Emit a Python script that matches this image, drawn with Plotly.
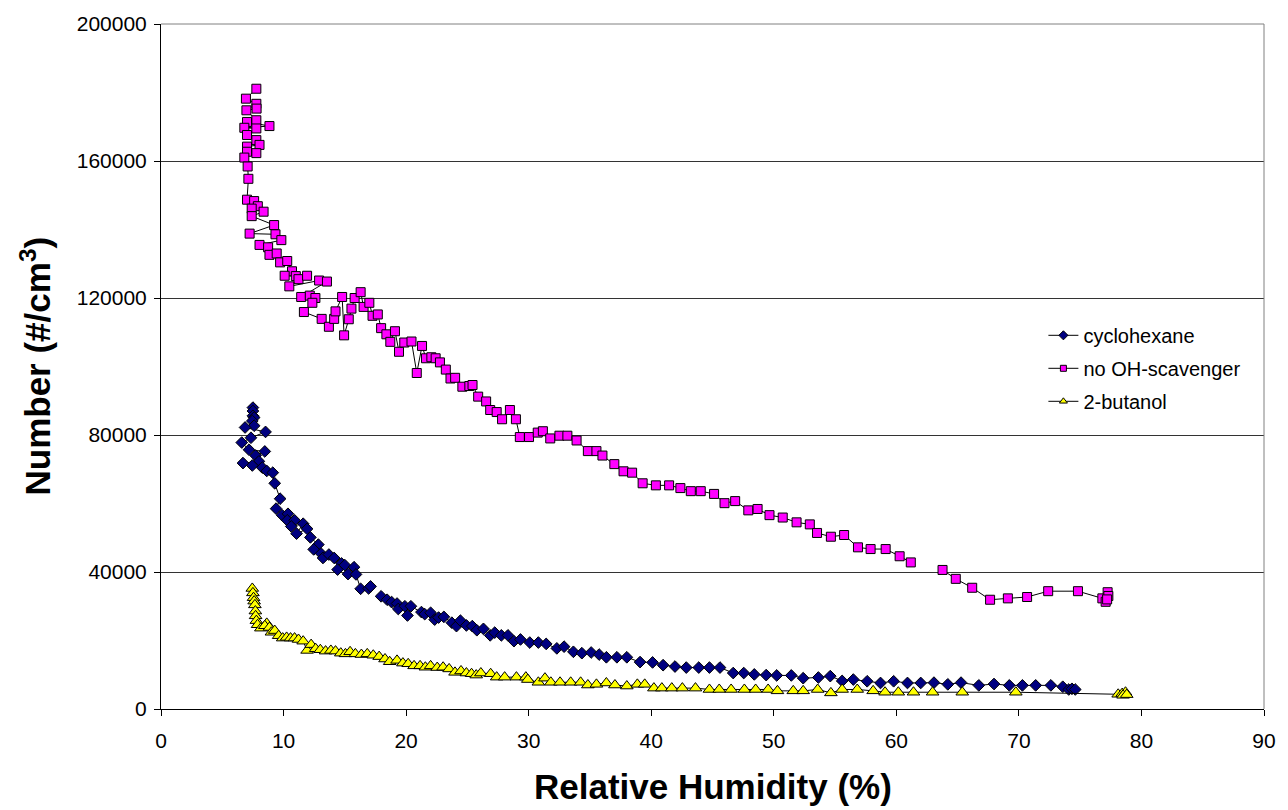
import plotly.graph_objects as go

# ---- data: relative humidity (%) and number concentration (#/cm3) ----
noOH_rh = [7.78, 6.93, 7.78, 7.80, 6.97, 7.78, 7.02, 8.85, 6.80, 7.78, 7.02, 7.78, 8.04, 7.02,
           7.02, 7.78, 6.80, 7.07, 7.13, 7.02, 7.60, 7.90, 7.40, 8.37, 7.40, 9.23, 7.23, 9.34,
           9.82, 8.04, 8.74, 8.85, 9.44, 9.72, 10.30, 10.69, 10.09, 11.00, 11.22, 11.92, 10.47,
           12.90, 13.54, 11.44, 12.14, 12.60, 12.35, 11.66, 13.11, 13.70, 14.13, 14.24, 14.78,
           14.94, 15.32, 15.54, 15.80, 16.29, 16.53, 17.00, 17.26, 17.69, 17.96, 18.39, 18.71,
           19.09, 19.42, 19.85, 20.44, 20.87, 21.30, 21.62, 22.06, 22.41, 22.76, 23.24, 23.62,
           24.00, 24.59, 25.16, 25.42, 25.88, 26.53, 26.86, 27.39, 27.83, 28.47, 28.96, 29.28,
           30.03, 30.74, 31.16, 31.76, 32.51, 33.16, 33.91, 34.83, 35.53, 36.02, 36.99, 37.74,
           38.44, 39.30, 40.38, 41.46, 42.38, 43.23, 44.04, 45.13, 45.98, 46.85, 47.92, 48.68,
           49.65, 50.73, 51.86, 52.94, 53.53, 54.66, 55.74, 56.87, 57.90, 59.13, 60.27, 61.18,
           None, 63.77, 64.85, 66.19, 67.65, 69.10, 70.67, 72.39, 74.82, 76.81, 77.24, 77.30,
           77.08, 77.20]
noOH_n = [181100, 178200, 176700, 175300, 174800, 171900, 171400, 170200, 169700, 169500,
          167600, 166100, 164700, 164200, 162700, 162300, 161000, 158400, 154800, 148700,
          148300, 146800, 146100, 145200, 143900, 141300, 138800, 138600, 136900, 135500,
          134800, 132600, 133000, 130400, 130800, 127800, 126500, 126400, 125500, 126500,
          123400, 125100, 124800, 120300, 120700, 120000, 118600, 115900, 113900, 111600,
          113900, 116100, 120300, 109100, 113800, 116900, 120000, 121700, 117400, 118600,
          114800, 115200, 111200, 109400, 107200, 110300, 104300, 107000, 107300, 98100,
          106000, 102400, 102700, 102400, 101200, 99100, 96500, 96700, 94100, 94300, 94600,
          91200, 89800, 87300, 86700, 84600, 87300, 84600, 79400, 79400, 80700, 81100, 79000,
          79800, 79800, 78400, 75300, 75300, 74000, 71500, 69400, 69000, 65900, 65300, 65300,
          64500, 63600, 63600, 62800, 60100, 60700, 58000, 58400, 56600, 55900, 54500, 53900,
          51400, 50300, 50800, 47200, 46700, 46700, 44600, 42800, None, 40600, 38000, 35400,
          31900, 32300, 32700, 34400, 34400, 32300, 34100, 33000, 31300, 32000]

cyclo_rh = [7.50, 7.50, 7.50, 7.60, 7.45, 7.60, 6.86, 8.53, 7.34, 6.59, 7.18, 8.47, 7.72,
            7.99, 6.69, 7.45, 8.26, 8.63, 9.12, 9.28, 9.72, 9.39, 9.88, 10.36, 10.30, 10.90,
            10.63, 11.60, 11.06, 11.92, 12.19, 12.84, 12.46, 13.06, 13.22, 13.70, 14.13,
            14.73, 14.41, 15.00, 15.26, 15.75, 15.91, 16.29, 16.94, 17.10, None, 17.96,
            18.45, 18.82, 19.26, 19.36, 19.90, 20.11, 20.39, 21.25, 21.52, 22.00, 22.33,
            22.65, 23.08, 23.73, 24.11, 24.43, 24.92, 25.40, 25.77, 26.31, 26.86, 27.23,
            27.77, 28.31, 28.80, 29.33, 30.09, 30.79, 31.43, 32.30, 32.89, 33.65, 34.34,
            35.10, 35.75, 36.34, 37.20, 38.01, 39.09, 40.11, 40.97, 41.94, 42.86, 43.88,
            44.75, 45.61, 46.69, 47.55, 48.41, 49.38, 50.24, 51.43, 52.40, 53.64, 54.61,
            55.58, 56.49, 57.62, 58.71, 59.78, 60.91, 61.99, 63.07, 64.20, 65.28, 66.73,
            67.97, 69.22, 70.29, 71.37, 72.61, 73.58, 74.07, 74.33, 74.60]
cyclo_n = [88000, 87000, 85600, 85100, 84100, 82700, 82200, 80900, 79200, 77800, 75700,
           75200, 74000, 72300, 71800, 71100, 70500, 69500, 69000, 65900, 61400, 58500,
           56600, 57000, 55100, 55100, 53300, 54100, 51200, 52600, 50100, 48000, 46600,
           45400, 44100, 45100, 44100, 42500, 40700, 42000, 39400, 41400, 39300, 35100,
           35200, 35800, None, 32900, 31900, 31200, 30800, 29200, 30000, 27300, 30000,
           28300, 27700, 28100, 26100, 26700, 26900, 25200, 24200, 25800, 24400, 24200,
           23000, 23400, 21500, 22300, 21500, 21500, 19800, 20300, 19400, 19400, 19000,
           17700, 18200, 16700, 16300, 16500, 15900, 15100, 15100, 15100, 13700, 13600,
           12800, 12400, 12100, 12100, 12100, 12100, 10500, 10500, 10100, 9900, 9800, 9800,
           9000, 9200, 9600, 8200, 8600, 8100, 7600, 8100, 7600, 7600, 7700, 7200, 7700,
           6900, 7300, 6900, 6900, 6900, 6900, 6500, 5700, 5900, 5700]

buta_rh = [7.45, 7.50, 7.55, 7.60, 7.66, 7.70, 7.72, 7.78, 7.88, 8.15, 8.63, 8.47, 8.85,
           9.01, 9.28, 9.60, 9.93, 10.25, 10.57, 10.90, 11.22, 11.60, 11.92, 12.25, 12.62,
           13.00, 13.43, 13.86, 14.24, 14.67, 15.05, 15.43, 15.86, 16.35, 16.83, 17.32,
           17.80, 18.28, 18.66, 19.26, 19.74, 20.17, 20.65, 21.14, 21.57, 22.00, 22.54,
           23.02, 23.51, 23.99, 24.48, 24.92, 25.34, 25.72, 26.10, 26.90, 27.39, 28.04,
           29.00, 29.77, 29.93, 30.79, 31.33, 31.81, 32.56, 33.43, 34.24, 34.83, 35.53,
           36.34, 37.04, 38.01, 38.87, 39.47, 40.22, 40.87, 41.68, 42.54, 43.61, 44.75,
           45.55, 46.52, 47.60, 48.52, 49.54, 50.30, 51.59, 52.40, 53.58, 54.66, 55.58,
           56.81, 58.11, 59.08, 60.16, 61.40, 62.96, 65.38, 69.75, 78.10, 78.43, 78.70,
           78.50, 78.80]
buta_n = [35200, 33900, 32500, 31500, 30400, 28600, 27200, 25800, 24600, 23600, 25000,
          24300, 23800, 22400, 22900, 21400, 20700, 20900, 20700, 20700, 20300, 19800,
          17100, 18800, 17600, 17300, 16900, 17100, 16900, 16300, 16100, 16700, 16100,
          15900, 16100, 15700, 15300, 14600, 13800, 14200, 13400, 13200, 12600, 12600,
          12200, 12600, 12100, 12200, 11700, 10700, 11100, 10500, 10300, 9900, 10500,
          10300, 9300, 9300, 9300, 9300, 8600, 7800, 9000, 7800, 7800, 7800, 7800, 7000,
          7200, 7600, 7000, 6700, 7200, 7200, 6100, 6100, 6100, 6100, 6100, 5700, 5700,
          5700, 5700, 5700, 5700, 5300, 5300, 5300, 5700, 4700, 5700, 5700, 5300, 4900,
          4900, 4900, 4900, 4900, 4900, 4300, 4500, 4900, 4000, 4200]

x_ticks = [0, 10, 20, 30, 40, 50, 60, 70, 80, 90]
y_ticks = [0, 40000, 80000, 120000, 160000, 200000]

series_names = ["cyclohexane", "no OH-scavenger", "2-butanol"]
FONT = "Liberation Sans, Arial, sans-serif"

styles = [
    dict(symbol="diamond", color="#000080", size=9),
    dict(symbol="square", color="#FF00FF", size=9),
    dict(symbol="triangle-up", color="#FFFF00", size=11),
]
legend_sizes = [7, 6, 7]
xs = [cyclo_rh, noOH_rh, buta_rh]
ys = [cyclo_n, noOH_n, buta_n]

fig = go.Figure()
for name, st, x, y in zip(series_names, styles, xs, ys):
    fig.add_trace(go.Scatter(
        x=x, y=y, name=name, mode="lines+markers", showlegend=False,
        line=dict(color="black", width=1), connectgaps=False,
        marker=dict(symbol=st["symbol"], size=st["size"], color=st["color"],
                    line=dict(color="black", width=1))))

# legend entries (small markers like the original legend)
for i, (name, st) in enumerate(zip(series_names, styles)):
    fig.add_trace(go.Scatter(
        x=[None], y=[None], name=name, mode="lines+markers", legendgroup=f"g{i}",
        line=dict(color="black", width=1),
        marker=dict(symbol=st["symbol"], size=legend_sizes[i], color=st["color"],
                    line=dict(color="black", width=1))))

fig.update_layout(
    width=1288, height=810,
    margin=dict(l=161, r=16, t=19, b=101),
    paper_bgcolor="white", plot_bgcolor="white",
    font=dict(family=FONT, size=20, color="black"),
    showlegend=True,
    legend=dict(x=0.8, y=0.574, xanchor="left", yanchor="top",
                font=dict(family=FONT, size=20, color="black"),
                bgcolor="rgba(0,0,0,0)", borderwidth=0,
                traceorder="grouped", tracegroupgap=4),
    xaxis=dict(range=[0, 90], tickvals=x_ticks, showgrid=False, zeroline=False,
               showline=True, linecolor="black", linewidth=1,
               ticks="outside", ticklen=6, tickcolor="black",
               tickfont=dict(family=FONT, size=21), ticklabelstandoff=7),
    yaxis=dict(range=[0, 200000], tickvals=y_ticks, tickformat="d",
               showgrid=True, gridcolor="#333333", gridwidth=1, zeroline=False,
               showline=True, linecolor="black", linewidth=1,
               ticks="outside", ticklen=6, tickcolor="black",
               tickfont=dict(family=FONT, size=21), ticklabelstandoff=3),
    annotations=[
        dict(text="<b>Relative Humidity (%)</b>", xref="paper", yref="paper",
             x=0.5, y=0, xanchor="center", yanchor="middle", yshift=-77,
             showarrow=False, font=dict(family=FONT, size=35, color="black")),
        dict(text="<b>Number (#/cm<sup>3</sup>)</b>", xref="paper", yref="paper",
             x=0, y=0.5, xanchor="center", yanchor="middle", xshift=-126,
             textangle=-90, showarrow=False, font=dict(family=FONT, size=35, color="black")),
    ],
    shapes=[
        dict(type="line", xref="paper", yref="paper", x0=0, x1=1, y0=1, y1=1,
             line=dict(color="#808080", width=1)),
        dict(type="line", xref="paper", yref="paper", x0=1, x1=1, y0=0, y1=1,
             line=dict(color="#808080", width=1)),
    ],
)

fig.write_html("out.html")
